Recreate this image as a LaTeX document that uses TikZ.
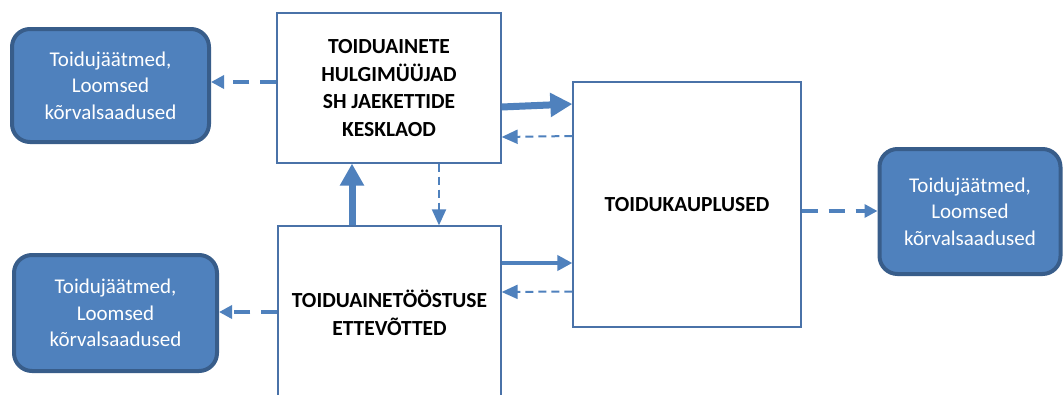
\documentclass[tikz,border=0pt]{standalone}
\usepackage{fontspec}
\setmainfont{Carlito}
\usetikzlibrary{arrows.meta}
\definecolor{arr}{HTML}{4F81BD}
\definecolor{bfill}{HTML}{4F81BD}
\definecolor{bdraw}{HTML}{385D8A}
\definecolor{wdraw}{HTML}{4A72A8}
\tikzset{
  bluebox/.style={draw=bdraw, fill=bfill, line width=4pt, rounded corners=18pt,
    text=white, font=\fontsize{21}{26.5}\selectfont, align=center, inner sep=0pt},
  whitebox/.style={draw=wdraw, fill=white, line width=1.3pt, inner sep=0pt,
    font=\bfseries\fontsize{21.5}{27.8}\selectfont, align=center},
  dashmid/.style={draw=arr, line width=4pt, dash pattern=on 16pt off 11pt,
    -{Triangle[length=13pt,width=13pt]}},
  dashthin/.style={draw=arr, line width=2pt, dash pattern=on 8pt off 5pt,
    -{Triangle[length=16pt,width=14pt]}},
  solidthick/.style={draw=arr, line width=7pt, -{Triangle[length=22pt,width=23pt]}},
  solidmid/.style={draw=arr, line width=4pt, -{Triangle[length=15pt,width=15pt]}},
}
\begin{document}
\begin{tikzpicture}[x=1pt,y=-1pt]
\clip (0,0) rectangle (1063,394);
\fill[white] (0,0) rectangle (1063,394);
% white boxes
\node[whitebox, minimum width=224pt, minimum height=150pt] (top) at (389,88)
  {TOIDUAINETE\\HULGIMÜÜJAD\\SH JAEKETTIDE\\KESKLAOD};
\node[whitebox, minimum width=223pt, minimum height=174pt] (bot) at (389.5,313)
  {TOIDUAINETÖÖSTUSE\\ETTEVÕTTED};
\node[whitebox, minimum width=228pt, minimum height=245pt] (shop) at (687,204.5)
  {TOIDUKAUPLUSED};
% blue boxes
\node[bluebox, minimum width=197pt, minimum height=113pt] (tl) at (110.5,85.5)
  {Toidujäätmed,\\Loomsed\\kõrvalsaadused};
\node[bluebox, minimum width=203pt, minimum height=116pt] (bl) at (115.5,313)
  {Toidujäätmed,\\Loomsed\\kõrvalsaadused};
\node[bluebox, minimum width=181pt, minimum height=125pt] (rb) at (970,211.5)
  {Toidujäätmed,\\Loomsed\\kõrvalsaadused};
% connectors
\coordinate (a1) at ([yshift=6pt]top.west);
\draw[dashmid] (a1) -- (a1 -| tl.east);
\draw[solidthick] ([yshift=-19pt]top.east) -- ([yshift=100.5pt]shop.west);
\draw[dashthin] ([yshift=68.5pt]shop.west) -- ([yshift=-49pt]top.east);
\draw[dashthin] ([xshift=50pt]top.south) -- ([xshift=49.5pt]bot.north);
\draw[solidthick] ([xshift=-37.5pt]bot.north) -- ([xshift=-37pt]top.south);
\draw[solidmid] ([yshift=50pt]bot.east) -- ([yshift=-58.5pt]shop.west);
\draw[dashthin] ([yshift=-87pt]shop.west) -- ([yshift=21pt]bot.east);
\coordinate (a8) at ([yshift=1pt]bot.west);
\draw[dashmid] (a8) -- (a8 -| bl.east);
\coordinate (a9) at ([yshift=-6.5pt]shop.east);
\draw[dashmid] (a9) -- (a9 -| rb.west);
\end{tikzpicture}
\end{document}
